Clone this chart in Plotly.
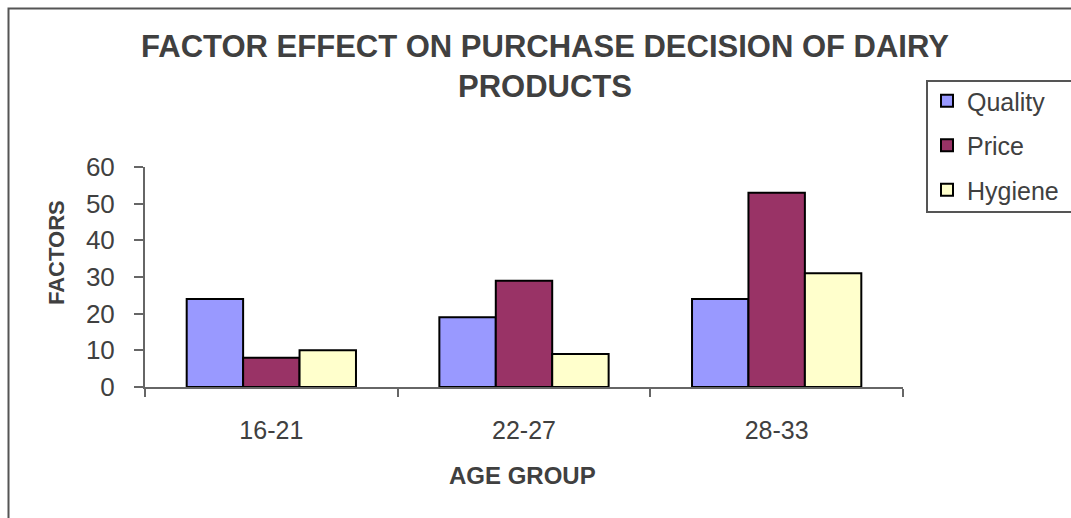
import plotly.graph_objects as go

# Survey results by age group
age_groups = ["16-21", "22-27", "28-33"]
quality = [24, 19, 24]
price = [8, 29, 53]
hygiene = [10, 9, 31]

series = [
    ("Quality", quality, "#9999FF"),
    ("Price", price, "#993366"),
    ("Hygiene", hygiene, "#FFFFCC"),
]

W, H = 1071, 518
L, R, T, B = 145, 168, 167, 131
TEXT = "#404040"
FONT = "Liberation Sans, Arial, sans-serif"


def px_x(x):
    return (x - L) / (W - L - R)


def px_y(y):
    return 1 - (y - T) / (H - T - B)


fig = go.Figure()
for name, vals, color in series:
    fig.add_trace(go.Bar(
        x=age_groups, y=vals, name=name, legendgroup=name,
        marker=dict(color=color, line=dict(color="#000000", width=2)),
    ))

fig.update_layout(
    width=W, height=H,
    margin=dict(l=L, r=R, t=T, b=B, autoexpand=False),
    paper_bgcolor="white", plot_bgcolor="white",
    barmode="group", bargap=0.33, bargroupgap=0,
    font=dict(family=FONT, color=TEXT, size=24),
    title=dict(
        text="<b>FACTOR EFFECT ON PURCHASE DECISION OF DAIRY<br>PRODUCTS</b>",
        font=dict(size=31, color=TEXT), x=px_x(545), xref="paper",
        xanchor="center", y=1 - 57 / H, yanchor="middle",
    ),
    showlegend=True,
    legend=dict(
        x=px_x(927), y=px_y(78), xanchor="left", yanchor="top",
        borderwidth=0, bgcolor="rgba(0,0,0,0)",
        font=dict(size=25, color=TEXT), tracegroupgap=9, itemwidth=30,
    ),
    xaxis=dict(
        showline=True, linecolor="#666666", linewidth=2,
        ticks="outside", tickson="boundaries", ticklen=8, tickcolor="#666666",
        tickwidth=2, ticklabelstandoff=20, showgrid=False,
        tickfont=dict(size=25, color=TEXT),
    ),
    yaxis=dict(
        range=[0, 60], dtick=10, showline=True, linecolor="#666666", linewidth=2,
        ticks="outside", ticklen=9, tickcolor="#666666", tickwidth=2,
        ticklabelstandoff=14, showgrid=False, zeroline=False,
        tickfont=dict(size=26, color=TEXT),
    ),
    annotations=[
        dict(text="<b>FACTORS</b>", textangle=-90, xref="paper", yref="paper",
             x=px_x(56), y=px_y(253), xanchor="center", yanchor="middle",
             showarrow=False, font=dict(size=22, color=TEXT)),
        dict(text="<b>AGE GROUP</b>", xref="paper", yref="paper",
             x=px_x(522), y=px_y(475), xanchor="center", yanchor="middle",
             showarrow=False, font=dict(size=24, color=TEXT)),
    ],
    shapes=[
        # outer chart frame (open at right and bottom edges of the view)
        dict(type="rect", xref="paper", yref="paper",
             x0=px_x(8.5), x1=px_x(W + 20), y0=px_y(H + 20), y1=px_y(8.5),
             line=dict(color="#555555", width=2), layer="below"),
        # legend frame running past the right edge
        dict(type="rect", xref="paper", yref="paper",
             x0=px_x(927), x1=px_x(W + 20), y0=px_y(212), y1=px_y(81),
             line=dict(color="#555555", width=2), layer="below"),
    ],
)

fig.write_html("out.html")
